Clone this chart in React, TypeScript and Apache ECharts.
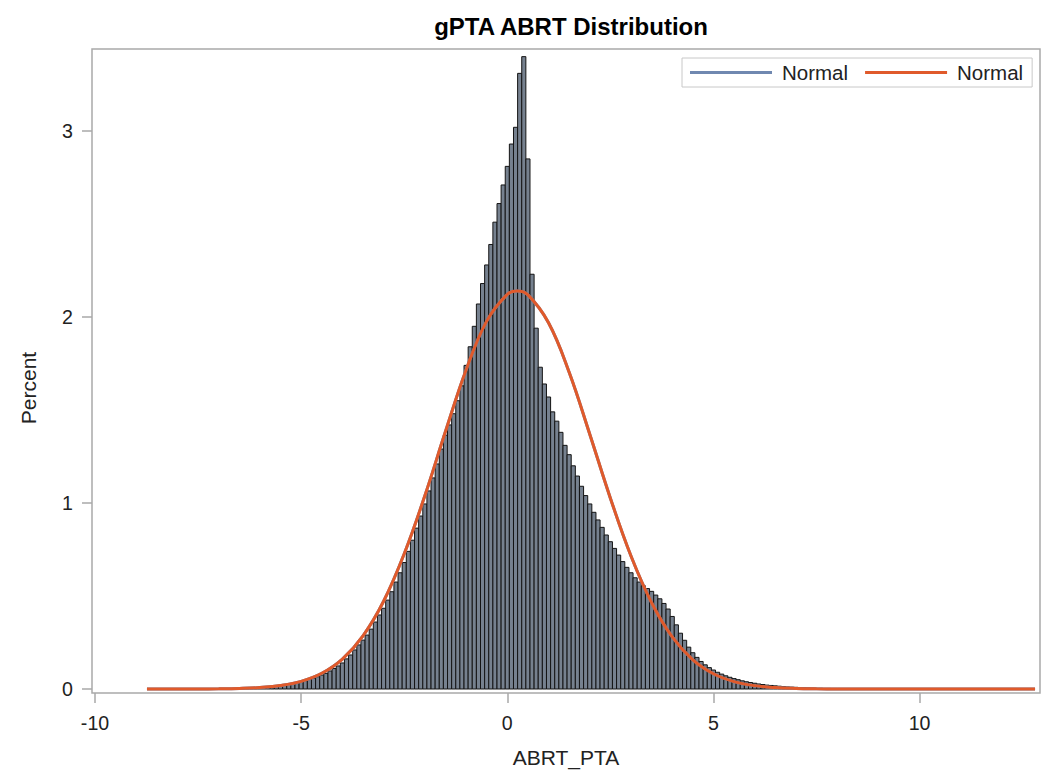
import React, { useEffect, useRef } from "react";
import * as echarts from "echarts";

const FONT = "'Liberation Sans', Arial, sans-serif";

// Histogram: bins of width 0.1, first bin centred at -7.5
const binStart = -7.5;
const binWidth = 0.1;
const percent = [
  // -7.5 .. -7.1
  0.001, 0.001, 0.001, 0.0015, 0.0015,
  // -7.0 .. -6.1
  0.002, 0.002, 0.0025, 0.003, 0.0035, 0.004, 0.005, 0.006, 0.007, 0.008,
  // -6.0 .. -5.1
  0.0095, 0.011, 0.013, 0.015, 0.017, 0.02, 0.023, 0.026, 0.03, 0.034,
  // -5.0 .. -4.1
  0.039, 0.045, 0.052, 0.058, 0.066, 0.075, 0.084, 0.097, 0.11, 0.124,
  // -4.0 .. -3.1
  0.14, 0.162, 0.183, 0.21, 0.237, 0.263, 0.29, 0.322, 0.36, 0.398,
  // -3.0 .. -2.1
  0.434, 0.478, 0.523, 0.575, 0.625, 0.68, 0.74, 0.8, 0.865, 0.93,
  // -2.0 .. -1.1
  0.995, 1.065, 1.135, 1.21, 1.29, 1.365, 1.42, 1.48, 1.55, 1.63,
  // -1.0 .. -0.1
  1.74, 1.84, 1.95, 2.07, 2.18, 2.28, 2.39, 2.51, 2.61, 2.71,
  // 0.0 .. 0.9
  2.81, 2.93, 3.02, 3.31, 3.4, 2.85, 2.23, 1.94, 1.73, 1.64,
  // 1.0 .. 1.9
  1.57, 1.49, 1.44, 1.38, 1.31, 1.26, 1.2, 1.145, 1.09, 1.04,
  // 2.0 .. 2.9
  0.995, 0.95, 0.909, 0.869, 0.828, 0.792, 0.756, 0.72, 0.685, 0.654,
  // 3.0 .. 3.9
  0.625, 0.598, 0.575, 0.555, 0.54, 0.525, 0.505, 0.485, 0.46, 0.43,
  // 4.0 .. 4.9
  0.39, 0.345, 0.3, 0.262, 0.225, 0.195, 0.17, 0.148, 0.13, 0.115,
  // 5.0 .. 5.9
  0.102, 0.09, 0.08, 0.071, 0.063, 0.056, 0.05, 0.044, 0.039, 0.035,
  // 6.0 .. 6.9
  0.031, 0.027, 0.024, 0.021, 0.019, 0.017, 0.015, 0.013, 0.011, 0.01,
  // 7.0 .. 7.9
  0.009, 0.008, 0.007, 0.006, 0.005, 0.004, 0.004, 0.003, 0.003, 0.002,
  // 8.0 .. 8.5
  0.002, 0.001, 0.001, 0.001, 0.001, 0.001,
];

// Fitted normal curve
const curveX = [
  -8.74, -8, -7.5, -7, -6.5, -6, -5.5, -5, -4.5, -4, -3.5, -3, -2.5, -2, -1.5,
  -1, -0.5, 0, 0.24, 0.5, 1, 1.5, 2, 2.5, 3, 3.5, 4, 4.5, 5, 5.5, 6, 6.5, 7,
  7.5, 8, 9, 10, 11, 12, 12.8,
];
const curveY = [
  0, 0.0001, 0.0004, 0.0011, 0.0031, 0.0079, 0.0187, 0.0412, 0.0844, 0.161,
  0.286, 0.472, 0.727, 1.039, 1.384, 1.715, 1.978, 2.122, 2.14, 2.119, 1.969,
  1.703, 1.37, 1.026, 0.715, 0.464, 0.28, 0.157, 0.0821, 0.0399, 0.0181,
  0.0076, 0.003, 0.0011, 0.0004, 0, 0, 0, 0, 0,
];

const xTicks = [-10, -5, 0, 5, 10];
const yTicks = [0, 1, 2, 3];

const BLUE = "#7088b0";
const ORANGE = "#e05a2b";
const FRAME = "#a9a9a9";

export default function App() {
  const ref = useRef<HTMLDivElement>(null);

  useEffect(() => {
    if (!ref.current) return;
    const chart = echarts.init(ref.current, null, { renderer: "svg" });

    const histData = percent.map((v, i) => [
      Number((binStart + i * binWidth).toFixed(2)),
      v,
    ]);
    const curveData = curveX.map((x, i) => [x, curveY[i]]);

    const option: any = {
      animation: false,
      backgroundColor: "#ffffff",
      textStyle: { fontFamily: FONT },
      title: {
        text: "gPTA ABRT Distribution",
        left: 566,
        top: 9,
        textAlign: "center",
        textStyle: {
          fontFamily: FONT,
          fontSize: 24,
          fontWeight: "bold",
          color: "#000",
        },
      },
      legend: {
        data: ["Normal-1", "Normal-2"],
        formatter: () => "Normal",
        left: 682,
        top: 58,
        orient: "horizontal",
        icon: "rect",
        itemWidth: 82,
        itemHeight: 3,
        itemGap: 17,
        padding: [4, 9, 4, 8],
        borderColor: "#c8c8c8",
        borderWidth: 1,
        selectedMode: false,
        textStyle: {
          fontFamily: FONT,
          fontSize: 20.5,
          color: "#222",
          padding: [0, 0, 0, 5],
        },
      },
      grid: {
        left: 92,
        top: 49,
        width: 948,
        height: 644,
        show: true,
        borderColor: FRAME,
        borderWidth: 1.5,
        backgroundColor: "transparent",
        containLabel: false,
        outerBoundsMode: "none",
      },
      xAxis: {
        type: "value",
        min: -10.073,
        max: 12.92,
        axisLine: { show: false, onZero: false },
        splitLine: { show: false },
        axisTick: {
          show: true,
          length: 10,
          customValues: xTicks,
          lineStyle: { color: FRAME, width: 1.5 },
        },
        axisLabel: {
          customValues: xTicks,
          fontFamily: FONT,
          fontSize: 19.6,
          color: "#222",
          margin: 20,
        },
      },
      yAxis: {
        type: "value",
        min: -0.0215,
        max: 3.441,
        axisLine: { show: false, onZero: false },
        splitLine: { show: false },
        axisTick: {
          show: true,
          length: 10,
          customValues: yTicks,
          lineStyle: { color: FRAME, width: 1.5 },
        },
        axisLabel: {
          customValues: yTicks,
          fontFamily: FONT,
          fontSize: 19.6,
          color: "#222",
          margin: 19,
        },
      },
      graphic: [
        {
          type: "text",
          x: 566,
          y: 757,
          style: {
            text: "ABRT_PTA",
            fontFamily: FONT,
            fontSize: 21,
            fill: "#222",
            align: "center",
            verticalAlign: "middle",
          },
        },
        {
          type: "text",
          x: 28,
          y: 388,
          rotation: Math.PI / 2,
          style: {
            text: "Percent",
            fontFamily: FONT,
            fontSize: 21,
            fill: "#222",
            align: "center",
            verticalAlign: "middle",
          },
        },
      ],
      series: [
        {
          name: "Histogram",
          type: "custom",
          data: histData,
          encode: { x: 0, y: 1 },
          renderItem: (params: any, api: any) => {
            const c = api.value(0);
            const h = api.value(1);
            const p0 = api.coord([c - binWidth / 2, h]);
            const p1 = api.coord([c + binWidth / 2, 0]);
            return {
              type: "rect",
              shape: {
                x: p0[0],
                y: p0[1],
                width: p1[0] - p0[0],
                height: p1[1] - p0[1],
              },
              style: {
                fill: "#76818f",
                stroke: "#141414",
                lineWidth: 1,
              },
            };
          },
        },
        {
          name: "Normal-1",
          type: "line",
          data: curveData,
          color: BLUE,
          smooth: 0.4,
          showSymbol: false,
          symbol: "none",
          lineStyle: { color: BLUE, width: 3 },
          z: 3,
        },
        {
          name: "Normal-2",
          type: "line",
          data: curveData,
          color: ORANGE,
          smooth: 0.4,
          showSymbol: false,
          symbol: "none",
          lineStyle: { color: ORANGE, width: 3 },
          z: 4,
        },
      ],
    };

    chart.setOption(option);
    return () => chart.dispose();
  }, []);

  return (
    <div
      ref={ref}
      style={{
        position: "absolute",
        left: 0,
        top: 0,
        width: 1045,
        height: 771,
        background: "#fff",
      }}
    />
  );
}
